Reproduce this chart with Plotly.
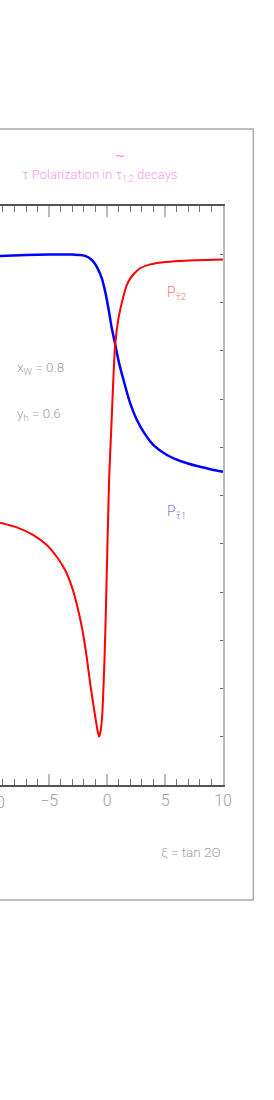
import plotly.graph_objects as go

# ---- data ----
blue_xi = [-9.25, -7.0, -5.0, -3.0, -2.5, -1.9, -1.32, -0.89, -0.46, -0.17, 0.11, 0.40,
           0.69, 0.98, 1.41, 1.99, 2.57, 3.14, 4.0, 5.16, 6.31, 7.75, 8.9, 10.0]
blue_P = [0.993, 0.997, 0.999, 0.999, 0.997, 0.993, 0.976, 0.948, 0.900, 0.845, 0.776, 0.693,
          0.628, 0.559, 0.479, 0.382, 0.313, 0.264, 0.209, 0.168, 0.143, 0.122, 0.109, 0.098]

red_xi = [-9.25, -7.8, -6.37, -5.21, -4.35, -3.63, -3.05, -2.57, -2.19, -1.81, -1.47, -1.12,
          -0.84, -0.70, -0.55, -0.40, -0.23, -0.11, 0.17, 0.35, 0.55, 0.69, 0.98, 1.27, 1.70,
          2.0, 2.27, 2.85, 3.72, 4.87, 6.31, 7.75, 10.0]
red_P = [-0.113, -0.132, -0.164, -0.205, -0.254, -0.309, -0.378, -0.461, -0.544, -0.654, -0.778,
         -0.889, -0.972, -1.0, -0.972, -0.89, -0.68, -0.475, 0.071, 0.27, 0.50, 0.624, 0.735,
         0.80, 0.873, 0.90, 0.917, 0.942, 0.958, 0.967, 0.972, 0.975, 0.978]

x_range = [-9.25, 10]
y_range = [-1.2, 1.2]

FONT = "Roboto, DejaVu Sans, sans-serif"
GRAY = "#a0a0a0"

fig = go.Figure()
fig.add_trace(go.Scatter(x=blue_xi, y=blue_P, mode="lines",
                         line=dict(color="#0000ff", width=2.5, shape="spline", smoothing=0.8),
                         showlegend=False, hoverinfo="skip"))
fig.add_trace(go.Scatter(x=red_xi, y=red_P, mode="lines",
                         line=dict(color="#ff0000", width=2, shape="spline", smoothing=0.5),
                         showlegend=False, hoverinfo="skip"))

fig.update_layout(
    width=274, height=1100,
    margin=dict(l=0, r=51, t=206, b=315),
    paper_bgcolor="white", plot_bgcolor="white",
    font=dict(family=FONT, color=GRAY, weight=300),
    xaxis=dict(range=x_range, tick0=0, dtick=5, ticks="inside", ticklen=11,
               tickcolor="#bbbbbb", tickwidth=1.5,
               minor=dict(dtick=1, ticks="inside", ticklen=6, tickcolor="#777777", tickwidth=1),
               showline=True, linecolor="#555555", linewidth=1.5, mirror="ticks",
               showgrid=False, zeroline=False,
               tickfont=dict(family=FONT, size=16, color=GRAY, weight=300)),
    yaxis=dict(range=y_range, tick0=0, dtick=0.2, side="right", ticks="inside", ticklen=3,
               tickcolor="#666666", showticklabels=False, showline=True,
               linecolor="#bbbbbb", linewidth=1.5, showgrid=False, zeroline=False),
)

# outer frame
fig.add_shape(type="rect", xref="paper", yref="paper", x0=-0.3, x1=1.136, y0=-0.1986, y1=1.133,
              line=dict(color="#aaaaaa", width=1.5), fillcolor="rgba(0,0,0,0)", layer="below")

ann = []
ann.append(dict(text="τ Polarization in τ<sub>1,2</sub> decays", xref="paper", yref="paper",
                x=0.0898, y=1.0535, xanchor="left", yanchor="middle", showarrow=False,
                font=dict(family=FONT, size=13, color="#f4a0f4", weight=300)))
ann.append(dict(text="~", xref="paper", yref="paper", x=0.536, y=1.087, xanchor="center",
                yanchor="middle", showarrow=False,
                font=dict(family="DejaVu Sans", size=12, color="#ff00ff")))
ann.append(dict(text="x<sub>W</sub> = 0.8", xref="paper", yref="paper", x=0.067, y=0.720,
                xanchor="left", yanchor="middle", showarrow=False,
                font=dict(family=FONT, size=13.5, color=GRAY, weight=300)))
ann.append(dict(text="y<sub>h</sub> = 0.6", xref="paper", yref="paper", x=0.067, y=0.641,
                xanchor="left", yanchor="middle", showarrow=False,
                font=dict(family=FONT, size=13.5, color=GRAY, weight=300)))
ann.append(dict(text="P<sub>τ̃2</sub>", xref="paper", yref="paper", x=0.741, y=0.8497,
                xanchor="left", yanchor="middle", showarrow=False,
                font=dict(family=FONT, size=14, color="#ff7777", weight=300)))
ann.append(dict(text="P<sub>τ̃1</sub>", xref="paper", yref="paper", x=0.741, y=0.4715,
                xanchor="left", yanchor="middle", showarrow=False,
                font=dict(family=FONT, size=14, color="#8080ff", weight=300)))
ann.append(dict(text="ξ = tan 2Θ", xref="paper", yref="paper", x=1.0013, y=-0.1157,
                xanchor="right", yanchor="middle", showarrow=False,
                font=dict(family=FONT, size=13.5, color=GRAY, weight=300)))
ann.append(dict(text="−10", xref="paper", yref="paper", x=-0.039, y=-0.031,
                xanchor="center", yanchor="middle", showarrow=False,
                font=dict(family=FONT, size=16, color=GRAY, weight=300)))
fig.update_layout(annotations=ann)

fig.write_html("out.html", config={"displayModeBar": False},
               post_script="document.body.style.margin='0px';")
